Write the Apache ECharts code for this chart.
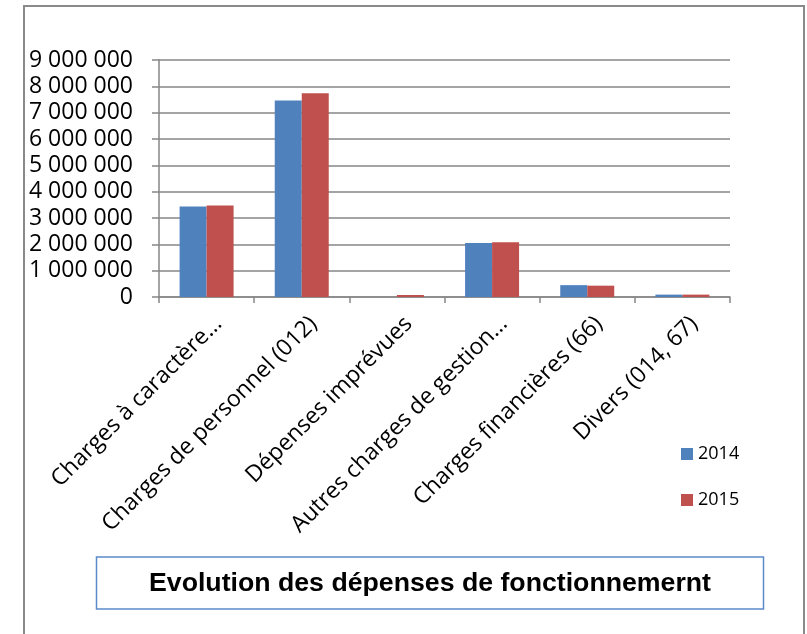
<!DOCTYPE html>
<html>
<head>
<meta charset="utf-8">
<script src="https://cdn.jsdelivr.net/npm/echarts@6/dist/echarts.min.js"></script>
<style>
  html, body { margin: 0; padding: 0; background: #fff; }
  #chart { width: 807px; height: 634px; }
</style>
</head>
<body>
<div id="chart"></div>
<script>
// données
var categories = [
  'Charges à caractère…',
  'Charges de personnel (012)',
  'Dépenses imprévues',
  'Autres charges de gestion…',
  'Charges financières (66)',
  'Divers (014, 67)'
];
var seriesNames = ['2014', '2015'];
var values2014 = [3440000, 7460000, 0, 2050000, 450000, 90000];
var values2015 = [3470000, 7740000, 75000, 2080000, 430000, 90000];
var yMax = 9000000;
var yStep = 1000000;
var titleText = 'Evolution des dépenses de fonctionnemernt';

var colors = ['#4F81BD', '#C0504D'];
var gray = '#868686';

function spaced(v) {
  // 1000000 -> "1 000 000"
  return String(v).replace(/\B(?=(\d{3})+(?!\d))/g, ' ');
}

var myChart = echarts.init(document.getElementById('chart'));
var option = {
  animation: false,
  color: colors,
  title: {
    text: titleText,
    left: 430,
    top: 584,
    padding: 0,
    textAlign: 'center',
    textVerticalAlign: 'middle',
    textStyle: { fontFamily: 'Liberation Sans', fontWeight: 'bold', fontSize: 26.7, color: '#000' }
  },
  legend: {
    orient: 'vertical',
    left: 681,
    top: 445,
    padding: 0,
    icon: 'rect',
    itemWidth: 12,
    itemHeight: 12,
    itemGap: 28,
    data: seriesNames,
    textStyle: { fontFamily: 'Open Sans', fontSize: 18, lineHeight: 18, color: '#000' }
  },
  grid: { left: 159, top: 60, right: 77, bottom: 337, containLabel: false },
  xAxis: {
    type: 'category',
    data: categories,
    axisLine: { show: true, lineStyle: { color: gray, width: 1.5 } },
    axisTick: { show: true, length: 6, lineStyle: { color: gray, width: 1.5 } },
    axisLabel: {
      interval: 0,
      rotate: 45,
      margin: 30,
      align: 'right',
      verticalAlign: 'top',
      padding: [-8, -13, 0, 0],
      fontFamily: 'Open Sans',
      fontSize: 23,
      color: '#000'
    }
  },
  yAxis: {
    type: 'value',
    min: 0,
    max: yMax,
    interval: yStep,
    axisLine: { show: true, lineStyle: { color: gray, width: 1.5 } },
    axisTick: { show: true, length: 7, lineStyle: { color: gray, width: 1.5 } },
    splitLine: { show: true, lineStyle: { color: gray, width: 1.5 } },
    axisLabel: {
      margin: 26,
      fontFamily: 'Open Sans',
      fontSize: 23,
      color: '#000',
      formatter: function (v) { return spaced(v); }
    }
  },
  graphic: [
    {
      type: 'rect',
      shape: { x: 24, y: 6, width: 780, height: 640 },
      style: { fill: 'none', stroke: '#8a8a8a', lineWidth: 2 },
      silent: true
    },
    {
      type: 'rect',
      shape: { x: 96.5, y: 557, width: 667, height: 52 },
      style: { fill: 'none', stroke: '#5b8bc9', lineWidth: 1.5 },
      silent: true
    }
  ],
  series: [
    {
      name: seriesNames[0],
      type: 'bar',
      data: values2014,
      barWidth: 27,
      barGap: '0%'
    },
    {
      name: seriesNames[1],
      type: 'bar',
      data: values2015,
      barWidth: 27,
      barGap: '0%'
    }
  ]
};
myChart.setOption(option);
</script>
</body>
</html>
